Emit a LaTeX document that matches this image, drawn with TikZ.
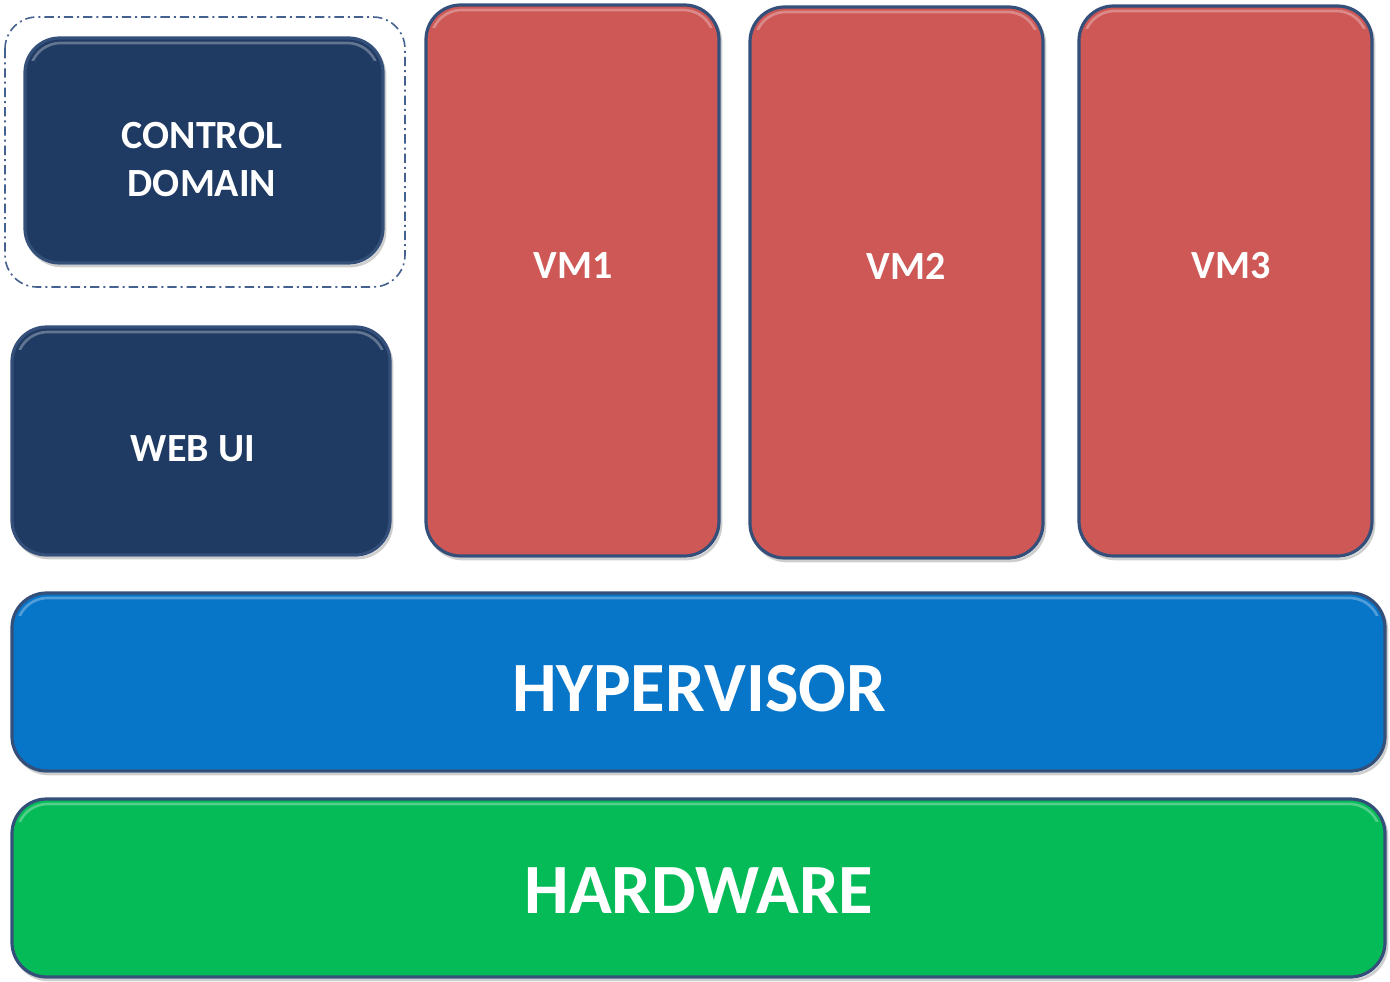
\documentclass[tikz,border=0pt]{standalone}
\usepackage{fontspec}
\setmainfont{Carlito}
\definecolor{navy}{HTML}{1F3B63}
\definecolor{vmred}{HTML}{CD5856}
\definecolor{hvblue}{HTML}{0775C8}
\definecolor{hwgreen}{HTML}{05BB58}
\definecolor{edge}{HTML}{34507A}
\definecolor{dashc}{HTML}{44618F}
\begin{document}
\begin{tikzpicture}[x=0.75pt,y=-0.75pt,
  blockbox/.style={draw=edge,line width=2.4pt,rounded corners=26pt},
  lbl/.style={text=white,align=center},
  drop/.style={draw=black!55,line width=2pt,rounded corners=26pt,opacity=0.35},
  shine/.style={draw=white,line width=2pt,rounded corners=23pt,opacity=0.3}]
\useasboundingbox (0,0) rectangle (1390,982);
% dashed outline
\draw[dashc,line width=1.2pt,dash pattern=on 7pt off 3pt on 1.5pt off 3pt,rounded corners=24pt] (5,17) rectangle (405,287);
% shadows
\foreach \a/\b/\c/\d in {25/38/383/263, 12/327/390/555, 426/5/719/556, 750/7/1043/558, 1079/6/1372/556, 12/593/1385/771, 12/799/1385/977}
  \draw[drop] (\a+2,\b+3) rectangle (\c+2,\d+3);
% boxes
\draw[blockbox,fill=navy] (25,38) rectangle (383,263);
\draw[blockbox,fill=navy] (12,327) rectangle (390,555);
\draw[blockbox,fill=vmred] (426,5) rectangle (719,556);
\draw[blockbox,fill=vmred] (750,7) rectangle (1043,558);
\draw[blockbox,fill=vmred] (1079,6) rectangle (1372,556);
\draw[blockbox,fill=hvblue] (12,593) rectangle (1385,771);
\draw[blockbox,fill=hwgreen] (12,799) rectangle (1385,977);
% top highlights
\foreach \a/\b/\c/\d in {25/38/383/263, 12/327/390/555, 426/5/719/556, 750/7/1043/558, 1079/6/1372/556, 12/593/1385/771, 12/799/1385/977}{
  \begin{scope}
    \clip (\a,\b) rectangle (\c,\b+22);
    \draw[shine] (\a+5,\b+5) rectangle (\c-5,\d-5);
  \end{scope}}
% labels
\node[lbl,font=\fontsize{30}{36}\selectfont\bfseries] (cd) at (202,160) {CONTROL\\DOMAIN};
\node[lbl,font=\fontsize{30}{36}\selectfont\bfseries] (web) at (193,449) {WEB UI};
\node[lbl,font=\fontsize{30}{36}\selectfont\bfseries] (vm1) at (573,266) {VM1};
\node[lbl,font=\fontsize{30}{36}\selectfont\bfseries] (vm2) at (906,266) {VM2};
\node[lbl,font=\fontsize{30}{36}\selectfont\bfseries] (vm3) at (1231,266) {VM3};
\node[lbl,font=\fontsize{53}{60}\selectfont\bfseries] (hv) at (699,689) {HYPERVISOR};
\node[lbl,font=\fontsize{53}{60}\selectfont\bfseries] (hw) at (699,891) {HARDWARE};
\end{tikzpicture}
\end{document}
